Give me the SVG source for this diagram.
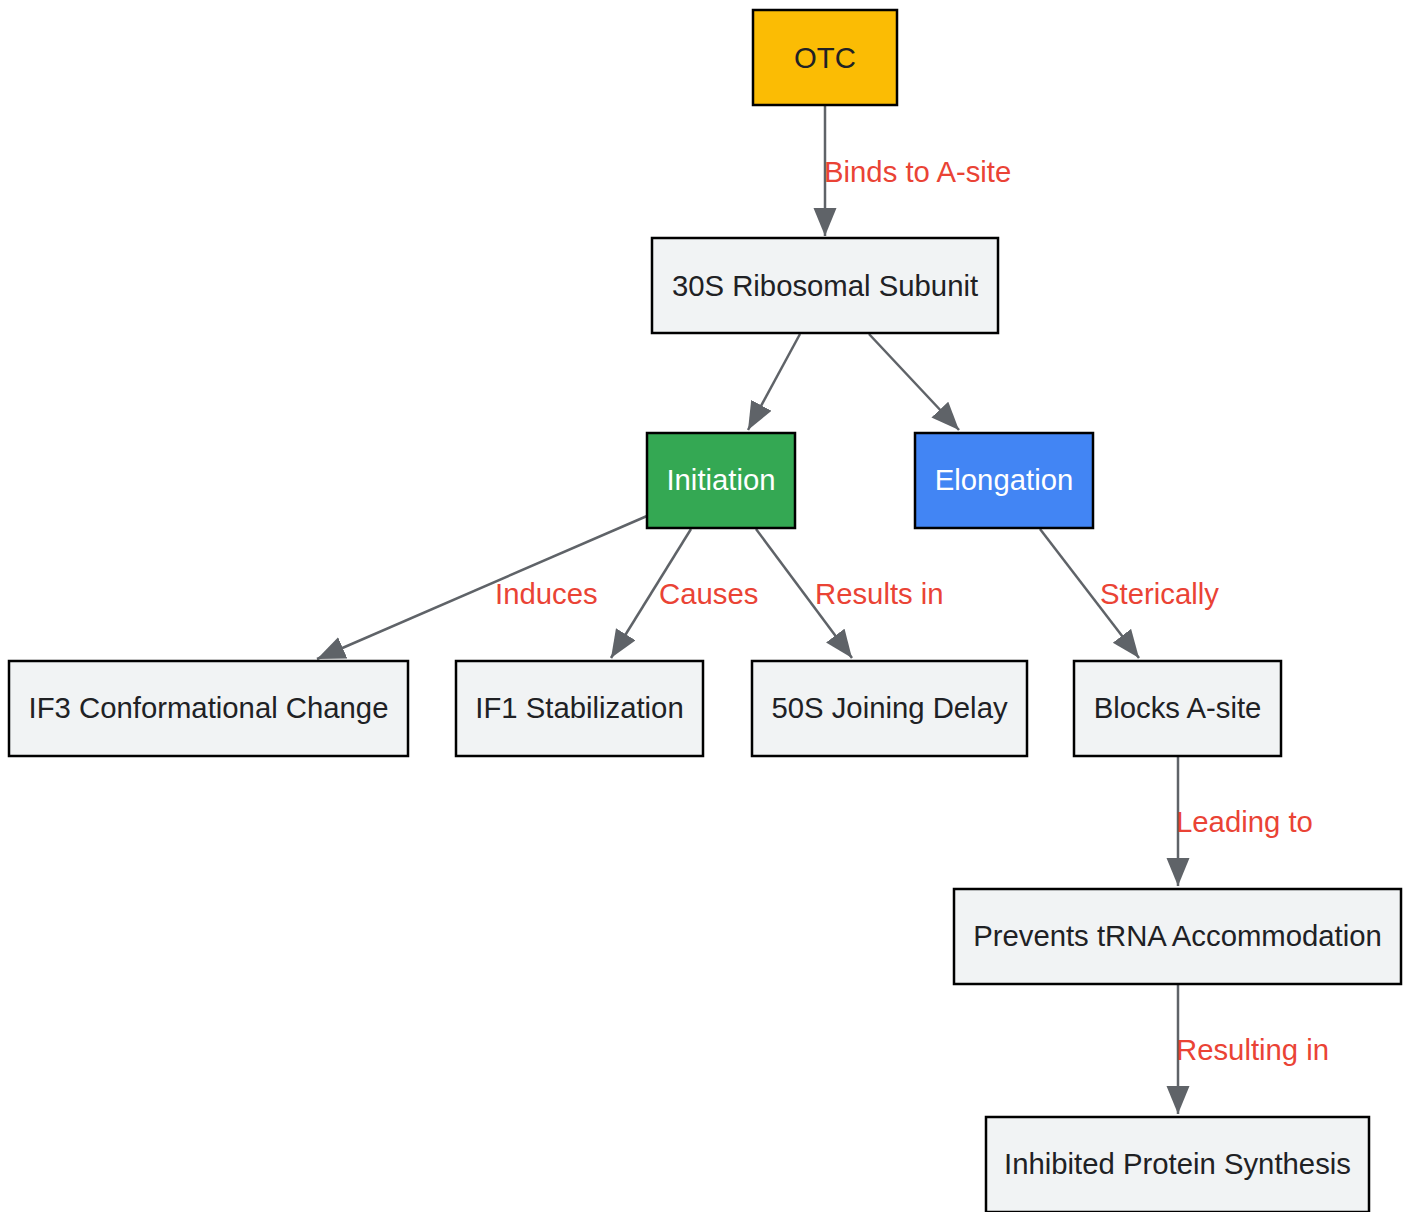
<svg xmlns="http://www.w3.org/2000/svg" width="1409" height="1212" viewBox="0 0 1409 1212">
<style>
.n rect{stroke:#000;stroke-width:2.5}
.n text{font-family:"Liberation Sans",Arial,sans-serif;font-size:29.3px;fill:#202124;text-anchor:middle}
.g rect{fill:#F1F3F4}
.e path{fill:none;stroke:#5F6368;stroke-width:2.5;marker-end:url(#ah)}
.e text{font-family:"Liberation Sans",Arial,sans-serif;font-size:29.3px;fill:#EA4335}
</style>
<defs>
<marker id="ah" markerUnits="userSpaceOnUse" markerWidth="30" markerHeight="24" refX="28" refY="11.5" orient="auto">
<path d="M0,0 L28,11.5 L0,23 z" fill="#5F6368"/>
</marker>
</defs>
<rect width="1409" height="1212" fill="#fff"/>
<g id="edges" class="e">
<path d="M825,105 L825,236"/>
<text x="824" y="182">Binds to A-site</text>
<path d="M800,334 L748,430"/>
<path d="M869,334 L959,430"/>
<path d="M647,516 L317,659"/>
<text x="495" y="604">Induces</text>
<path d="M691,529 L611,658"/>
<text x="659" y="604">Causes</text>
<path d="M756,529 L852,658"/>
<text x="815" y="604">Results in</text>
<path d="M1040,529 L1139,658"/>
<text x="1100" y="604">Sterically</text>
<path d="M1178,757 L1178,886"/>
<text x="1176" y="832">Leading to</text>
<path d="M1178,985 L1178,1114"/>
<text x="1176" y="1060">Resulting in</text>
</g>
<g id="otc" class="n"><rect x="753" y="10" width="144" height="95" fill="#FBBC04"/><text x="825" y="68">OTC</text></g>
<g id="ribo30s" class="n g"><rect x="652" y="238" width="346" height="95"/><text x="825" y="296">30S Ribosomal Subunit</text></g>
<g id="initiation" class="n"><rect x="647" y="433" width="148" height="95" fill="#34A853"/><text x="721" y="490" style="fill:#fff">Initiation</text></g>
<g id="elongation" class="n"><rect x="915" y="433" width="178" height="95" fill="#4285F4"/><text x="1004" y="490" style="fill:#fff">Elongation</text></g>
<g id="if3" class="n g"><rect x="9" y="661" width="399" height="95"/><text x="208.5" y="718">IF3 Conformational Change</text></g>
<g id="if1" class="n g"><rect x="456" y="661" width="247" height="95"/><text x="579.5" y="718">IF1 Stabilization</text></g>
<g id="delay50s" class="n g"><rect x="752" y="661" width="275" height="95"/><text x="889.5" y="718">50S Joining Delay</text></g>
<g id="blocks" class="n g"><rect x="1074" y="661" width="207" height="95"/><text x="1177.5" y="718">Blocks A-site</text></g>
<g id="prevents" class="n g"><rect x="954" y="889" width="447" height="95"/><text x="1177.5" y="946">Prevents tRNA Accommodation</text></g>
<g id="inhibited" class="n g"><rect x="986" y="1117" width="383" height="95"/><text x="1177.5" y="1174">Inhibited Protein Synthesis</text></g>
</svg>
